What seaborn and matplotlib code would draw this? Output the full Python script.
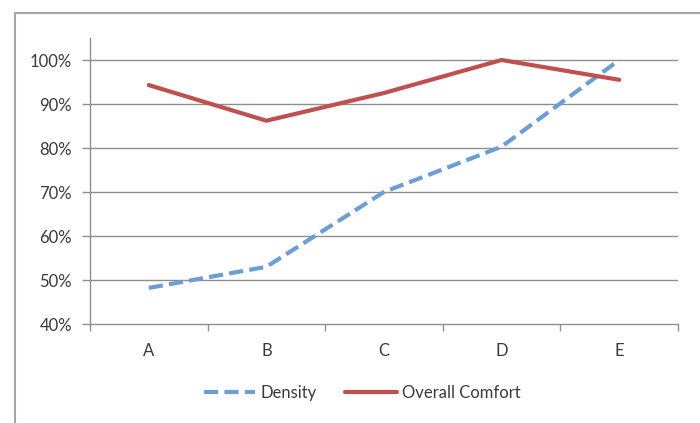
import matplotlib
matplotlib.use("Agg")
import matplotlib.pyplot as plt
from matplotlib.lines import Line2D
from matplotlib.ticker import FuncFormatter, FixedLocator
import seaborn as sns
import pandas as pd

# Survey results per site
sites = ["A", "B", "C", "D", "E"]
density = [0.482, 0.53, 0.70, 0.803, 1.00]
overall_comfort = [0.943, 0.862, 0.925, 1.00, 0.955]

series_names = ["Density", "Overall Comfort"]
series_colors = ["#6c9dd4", "#c0504d"]

df = pd.DataFrame({
    "site": sites * 2,
    "value": density + overall_comfort,
    "series": [series_names[0]] * len(sites) + [series_names[1]] * len(sites),
})

sns.set_theme(style="white")
plt.rcParams["font.family"] = ["Lato", "DejaVu Sans"]

fig = plt.figure(figsize=(7.0, 4.23), dpi=100)
ax = fig.add_axes([90 / 700, 1 - 324 / 423, 588 / 700, 286 / 423])

sns.lineplot(
    data=df, x="site", y="value", hue="series", style="series",
    palette=dict(zip(series_names, series_colors)),
    dashes={series_names[0]: (3.4, 1.5), series_names[1]: ""},
    linewidth=3.0, ax=ax, legend=False, sort=False,
)

ax.set_xlim(-0.5, len(sites) - 0.5)
ax.set_ylim(0.40, 1.05)
ax.set_xlabel("")
ax.set_ylabel("")

grid_color = "#8f8f8f"
text_color = "#3a3a3a"
yticks = [0.4, 0.5, 0.6, 0.7, 0.8, 0.9, 1.0]
ax.yaxis.set_major_locator(FixedLocator(yticks))
ax.yaxis.set_major_formatter(FuncFormatter(lambda v, _: f"{v * 100:.0f}%"))
for y in yticks[1:]:
    ax.axhline(y, color=grid_color, linewidth=1.0, zorder=0)

ax.xaxis.set_major_locator(FixedLocator(range(len(sites))))
ax.set_xticklabels(sites)
ax.xaxis.set_minor_locator(FixedLocator([i - 0.5 for i in range(len(sites) + 1)]))

for side in ["top", "right"]:
    ax.spines[side].set_visible(False)
for side in ["left", "bottom"]:
    ax.spines[side].set_color(grid_color)
    ax.spines[side].set_linewidth(1.0)

ax.tick_params(axis="y", which="major", left=True, length=6, width=1.0,
               color=grid_color, pad=7, labelsize=12, labelcolor=text_color)
ax.tick_params(axis="x", which="major", bottom=False, pad=8,
               labelsize=12, labelcolor=text_color)
ax.tick_params(axis="x", which="minor", bottom=True, length=5, width=1.0,
               color=grid_color, direction="out")

handles = [
    Line2D([], [], color=series_colors[0], linewidth=3.0, dashes=(3.4, 1.5)),
    Line2D([], [], color=series_colors[1], linewidth=3.0),
]
fig.legend(handles, series_names, loc="center", bbox_to_anchor=(362 / 700, 1 - 393 / 423),
           ncol=2, frameon=False, fontsize=12, handlelength=3.1, handletextpad=0.3,
           columnspacing=1.7, labelcolor=text_color)

# Chart border along the top and left edges
border = "#a6a6a6"
fig.add_artist(Line2D([15 / 700, 1.0], [1 - 13 / 423, 1 - 13 / 423],
                      transform=fig.transFigure, color=border, linewidth=1.5))
fig.add_artist(Line2D([15 / 700, 15 / 700], [0.0, 1 - 13 / 423],
                      transform=fig.transFigure, color=border, linewidth=1.5))

fig.savefig("out.png", dpi=100)
